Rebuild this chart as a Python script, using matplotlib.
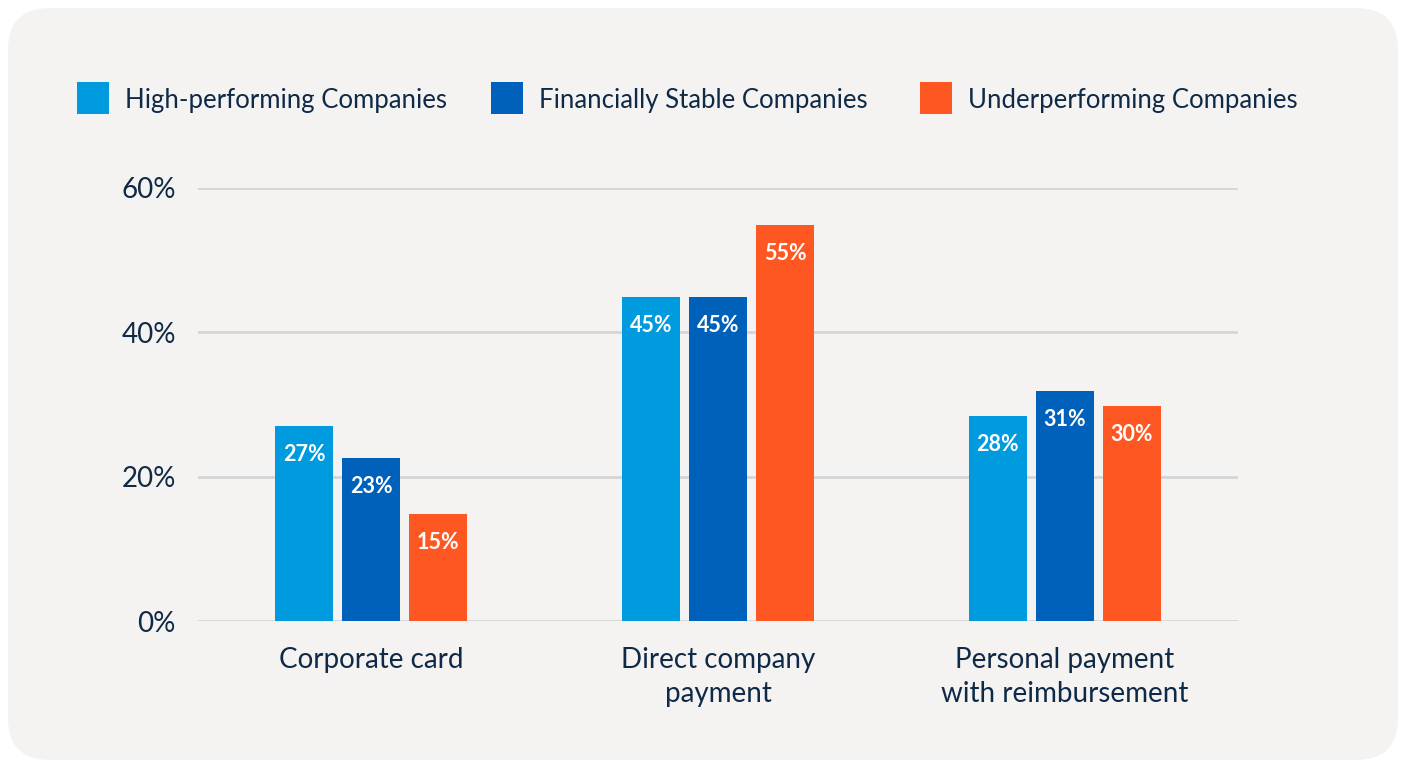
import matplotlib.pyplot as plt
import numpy as np
from matplotlib.patches import FancyBboxPatch, Rectangle

# data
categories = ['Corporate card', 'Direct company\npayment', 'Personal payment\nwith reimbursement']
series = ['High-performing Companies', 'Financially Stable Companies', 'Underperforming Companies']
# bar heights as drawn in the picture
high = [27.0, 44.9, 28.4]
stable = [22.6, 44.9, 31.9]
under = [14.8, 54.9, 29.8]
# printed labels
high_lbl = ['27%', '45%', '28%']
stable_lbl = ['23%', '45%', '31%']
under_lbl = ['15%', '55%', '30%']
yticks = [0, 20, 40, 60]

colors = ['#009BDE', '#0061BA', '#FF5722']
text_col = '#0F2A47'
bg = '#F5F3F2'

plt.rcParams['font.family'] = ['Lato', 'DejaVu Sans']

W, H = 1403, 762
fig = plt.figure(figsize=(W / 100, H / 100), dpi=100)
fig.patch.set_facecolor('white')

# rounded background card
card = FancyBboxPatch((0.08, 0.02), 13.9, 7.52, boxstyle='round,pad=0,rounding_size=0.42',
                      transform=fig.dpi_scale_trans, facecolor=bg, edgecolor='none', zorder=-10)
fig.patches.append(card)

ax = fig.add_axes([198 / W, 1 - 621 / H, (1238 - 198) / W, (621 - 188) / H])
ax.set_facecolor('none')

x = np.arange(len(categories))
width = 58 / 347
step = 67 / 347

for i, (vals, lbls) in enumerate([(high, high_lbl), (stable, stable_lbl), (under, under_lbl)]):
    pos = x + (i - 1) * step
    ax.bar(pos, vals, width, color=colors[i], zorder=3)
    for px, v, t in zip(pos, vals, lbls):
        ax.annotate(t, (px, v), xytext=(0, -20.5), textcoords='offset points',
                    ha='center', va='center', color='white', fontsize=15.5, fontweight='bold', zorder=4)

ax.set_xlim(-0.5, 2.5)
ax.set_ylim(0, 60)
ax.set_yticks(yticks)
ax.set_yticklabels([f'{v}%' for v in yticks])
ax.set_xticks(x)
ax.set_xticklabels(categories, linespacing=1.35)
ax.tick_params(axis='y', length=0, pad=16, labelsize=20, labelcolor=text_col)
ax.tick_params(axis='x', length=0, pad=19, labelsize=20, labelcolor=text_col)
ax.yaxis.grid(True, color='#D3D5D7', linewidth=2, zorder=1)
ax.set_axisbelow(True)
for s in ax.spines.values():
    s.set_visible(False)

# legend row: square + label for each series
leg_x = [77, 491, 920]
for lx, name, c in zip(leg_x, series, colors):
    fig.patches.append(Rectangle((lx / W, 1 - 114 / H), 32 / W, 32 / H, transform=fig.transFigure,
                                 facecolor=c, edgecolor='none'))
    fig.text((lx + 48) / W, 1 - 98 / H, name, ha='left', va='center_baseline',
             fontsize=18.5, color=text_col)

fig.savefig('out.png', dpi=100)
